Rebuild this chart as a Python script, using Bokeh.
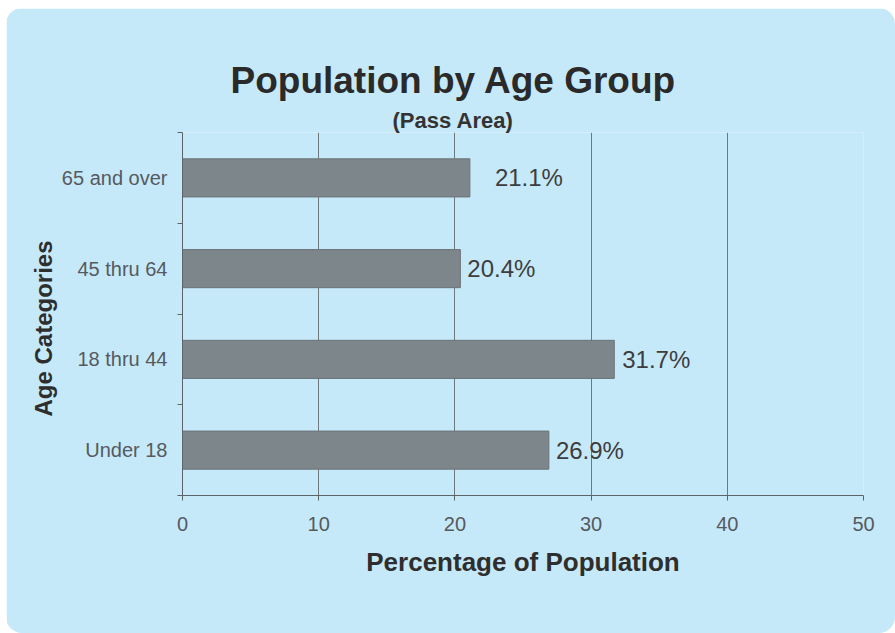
from bokeh.plotting import figure
from bokeh.models import ColumnDataSource, FixedTicker, Range1d, Title
from bokeh.core.properties import value
from bokeh.embed import file_html
from bokeh.resources import INLINE

# ---- data ----
categories = ["Under 18", "18 thru 44", "45 thru 64", "65 and over"]
percentages = [26.9, 31.7, 20.4, 21.1]
value_labels = ["26.9%", "31.7%", "20.4%", "21.1%"]
x_ticks = [0, 10, 20, 30, 40, 50]

title_text = "Population by Age Group"
subtitle_text = "(Pass Area)"
x_title = "Percentage of Population"
y_title = "Age Categories"

# ---- styling ----
FONT = "Liberation Sans"
BG = "#c6e9f9"
BAR = "#7d868b"
BAR_EDGE = "#6b7378"
GRID = "#6f787d"
AXIS = "#5c6469"
label_offsets = [7, 8, 7, 25]

y_pos = [i + 0.5 for i in range(len(categories))]
src = ColumnDataSource(dict(y=y_pos, value=percentages, label=value_labels, xoff=label_offsets))

p = figure(width=889, height=625,
           x_range=Range1d(x_ticks[0], x_ticks[-1]),
           y_range=Range1d(0, len(categories)),
           output_backend="svg", toolbar_location=None,
           min_border_left=176, min_border_right=32,
           min_border_top=124, min_border_bottom=138,
           background_fill_color=BG, border_fill_color=BG,
           outline_line_color=None)
p.styles = {"margin-left": "6px", "margin-top": "8px",
            "border-radius": "16px", "overflow": "hidden"}

p.hbar(y="y", left=0, right="value", height=0.42, source=src,
       fill_color=BAR, line_color=BAR_EDGE, line_width=1)

p.text(x="value", y="y", text="label", x_offset="xoff", source=src,
       text_font=value(FONT), text_font_size="24px", text_color="#3d3d3d",
       text_align="left", text_baseline="middle")

# grid
p.ygrid.visible = False
p.xgrid.ticker = FixedTicker(ticks=x_ticks)
p.xgrid.grid_line_color = GRID
p.xgrid.grid_line_width = 1

# x axis
xa = p.xaxis[0]
xa.ticker = FixedTicker(ticks=x_ticks)
xa.axis_line_color = AXIS
xa.major_tick_line_color = AXIS
xa.major_tick_out = 5
xa.major_tick_in = 0
xa.minor_tick_out = 0
xa.minor_tick_in = 0
xa.major_label_standoff = 16
xa.major_label_text_font = FONT
xa.major_label_text_font_size = "20px"
xa.major_label_text_color = "#555a5e"
xa.axis_label = x_title
xa.axis_label_text_font = FONT
xa.axis_label_text_font_style = "bold"
xa.axis_label_text_font_size = "26px"
xa.axis_label_text_color = "#2e2e2e"
xa.axis_label_standoff = 13

# y axis
ya = p.yaxis[0]
ya.ticker = FixedTicker(ticks=y_pos, minor_ticks=list(range(len(categories) + 1)))
ya.major_label_overrides = {y: c for y, c in zip(y_pos, categories)}
ya.axis_line_color = AXIS
ya.major_tick_out = 0
ya.major_tick_in = 0
ya.minor_tick_out = 5
ya.minor_tick_in = 0
ya.minor_tick_line_color = AXIS
ya.major_label_standoff = 10
ya.major_label_text_font = FONT
ya.major_label_text_font_size = "20px"
ya.major_label_text_color = "#555a5e"

# titles (first added 'above' sits nearest the frame)
p.add_layout(Title(text=subtitle_text, align="left", offset=210,
                   vertical_align="bottom", standoff=0,
                   text_font=FONT, text_font_style="bold",
                   text_font_size="22px", text_color="#333333"), "above")
p.add_layout(Title(text=title_text, align="left", offset=48,
                   vertical_align="bottom", standoff=10,
                   text_font=FONT, text_font_style="bold",
                   text_font_size="37px", text_color="#2a2a2a"), "above")
p.add_layout(Title(text=y_title, align="left", offset=79,
                   vertical_align="bottom", standoff=4,
                   text_font=FONT, text_font_style="bold",
                   text_font_size="24px", text_color="#2e2e2e"), "left")

open("out.html", "w").write(file_html(p, INLINE))
